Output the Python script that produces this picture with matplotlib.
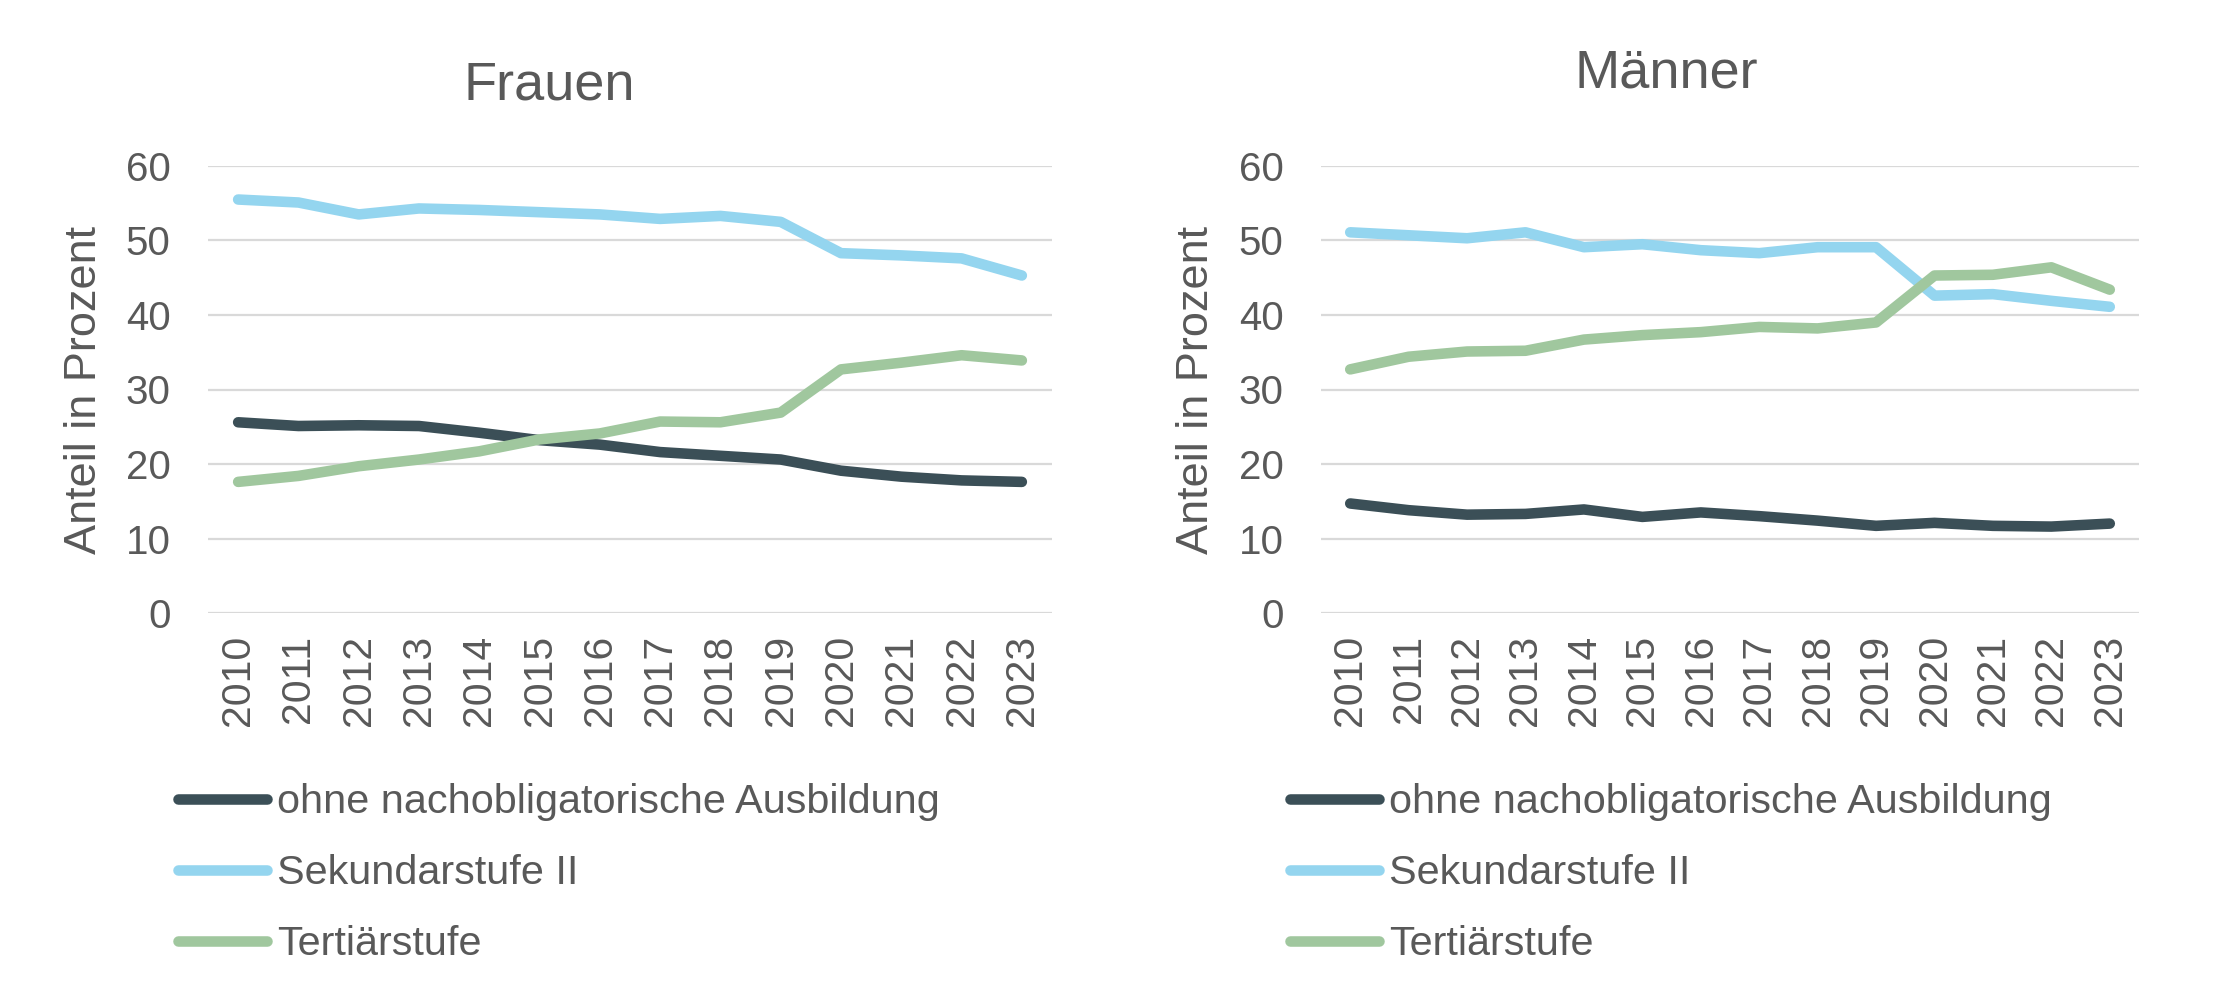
#!/usr/bin/env python3

import numpy as np
import matplotlib.pyplot as plt

plt.rcParams['font.family'] = ['Liberation Sans', 'DejaVu Sans']

years = [str(y) for y in range(2010, 2024)]
labels = ["ohne nachobligatorische Ausbildung", "Sekundarstufe II", "Tertiärstufe"]
colors = ["#3B4F57", "#94D5EF", "#A0C79E"]

frauen_ohne = [25.6, 25.1, 25.2, 25.1, 24.2, 23.2, 22.6, 21.6, 21.1, 20.6, 19.1, 18.3, 17.8, 17.6]
frauen_sek = [55.5, 55.1, 53.5, 54.3, 54.1, 53.8, 53.5, 52.9, 53.3, 52.5, 48.3, 48.0, 47.6, 45.3]
frauen_tert = [17.6, 18.4, 19.7, 20.6, 21.7, 23.3, 24.1, 25.7, 25.6, 26.9, 32.7, 33.6, 34.6, 33.9]

maenner_ohne = [14.7, 13.8, 13.2, 13.3, 13.9, 12.9, 13.5, 13.0, 12.4, 11.7, 12.1, 11.7, 11.6, 12.0]
maenner_sek = [51.1, 50.7, 50.3, 51.1, 49.1, 49.5, 48.7, 48.3, 49.1, 49.1, 42.6, 42.8, 41.9, 41.1]
maenner_tert = [32.7, 34.4, 35.1, 35.2, 36.7, 37.3, 37.7, 38.4, 38.2, 39.0, 45.3, 45.4, 46.4, 43.4]

TXT = "#595959"
W, H = 2220, 1002

fig = plt.figure(figsize=(W / 100, H / 100), dpi=100)

# title, series, axes left/right (px), title x/baseline, ylabel x, legend x
panels = [
    ("Frauen", [frauen_ohne, frauen_sek, frauen_tert], 208, 1052, 549, 99, 85, 178),
    ("Männer", [maenner_ohne, maenner_sek, maenner_tert], 1321, 2139, 1666, 87, 1197, 1290),
]

x = np.arange(len(years))
for title, series, xl, xr, tx, ty, ylx, legx in panels:
    ax = fig.add_axes([xl / W, 1 - 613 / H, (xr - xl) / W, 447 / H])
    handles = []
    for vals, col, lab in zip(series, colors, labels):
        h, = ax.plot(x, vals, "-", color=col, lw=7.6, solid_capstyle="round",
                     solid_joinstyle="round", label=lab, zorder=3)
        handles.append(h)
    ax.set_xlim(-0.5, len(years) - 0.5)
    ax.set_ylim(0, 60)
    ax.set_yticks(range(0, 61, 10))
    ax.set_xticks(x)
    ax.set_xticklabels(years, rotation=90, fontsize=29.5, color=TXT)
    ax.tick_params(axis="x", length=0, pad=16)
    ax.tick_params(axis="y", length=0, pad=27, labelsize=29, labelcolor=TXT)
    ax.grid(axis="y", color="#D9D9D9", lw=1.6, zorder=0)
    for s in ax.spines.values():
        s.set_visible(False)
    fig.text(tx / W, 1 - ty / H, title, fontsize=39, color=TXT, ha="center", va="baseline")
    fig.text(ylx / W, 1 - 390 / H, "Anteil in Prozent", fontsize=32.5, color=TXT,
             rotation=90, ha="center", va="center")
    fig.legend(handles=handles, loc="upper left", bbox_to_anchor=(legx / W, 1 - 783 / H),
               frameon=False, fontsize=29.8, labelcolor=TXT, handlelength=2.15,
               handletextpad=0.25, labelspacing=0.8, borderpad=0, borderaxespad=0)

plt.savefig("out.png", dpi=100)
